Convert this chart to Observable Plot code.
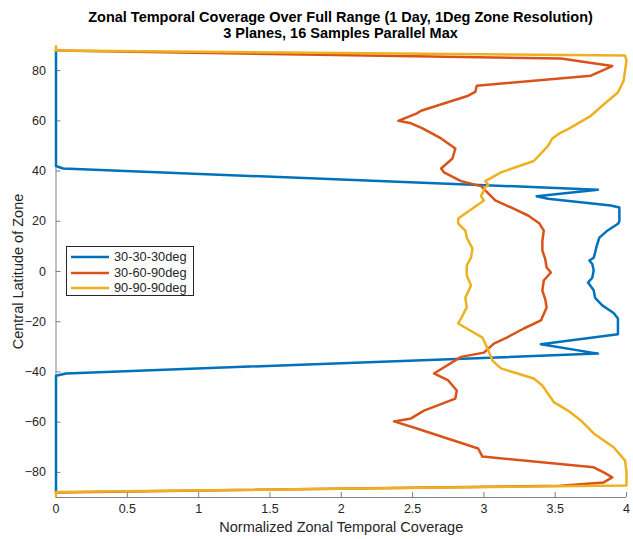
<!DOCTYPE html>
<html>
<head>
<meta charset="utf-8">
<script src="https://cdn.jsdelivr.net/npm/d3@7"></script>
<script src="https://cdn.jsdelivr.net/npm/@observablehq/plot@0.6"></script>
<style>
  body { margin: 0; background: white; font-family: "Liberation Sans", Arial, Helvetica, sans-serif; }
  #wrap { position: relative; width: 633px; height: 539px; }
  #title { height: 40px; box-sizing: border-box; padding-top: 9px; text-align: center; font-weight: bold; font-size: 14.5px; line-height: 16px; color: #000; padding-left: 48px; white-space: nowrap; }
  #legend { position: absolute; left: 66px; top: 246px; width: 128px; height: 50px; box-sizing: border-box; border: 1px solid #262626; background: white; font-size: 12.8px; color: #262626; }
  .entry { position: absolute; left: 0; height: 14px; }
  .entry svg { position: absolute; left: 3px; top: 0; }
  .entry span { position: absolute; left: 47px; top: 0; line-height: 14px; white-space: nowrap; }
</style>
</head>
<body>
<div id="wrap">
  <div id="title">Zonal Temporal Coverage Over Full Range (1 Day, 1Deg Zone Resolution)<br>3 Planes, 16 Samples Parallel Max</div>
  <div id="chart"></div>
  <div id="legend"></div>
</div>
<script>
// ---- data ----
const seriesNames = ["30-30-30deg", "30-60-90deg", "90-90-90deg"];
const seriesColors = ["#0072BD", "#D95319", "#EDB120"];

const xTicks = [0, 0.5, 1, 1.5, 2, 2.5, 3, 3.5, 4];
const yTicks = [-80, -60, -40, -20, 0, 20, 40, 60, 80];

const blueLat = [88, 42, 41, 32.6, 30, 29, 26.3, 25.5, 20, 19, 16, 13.5, 10, 7.5, 5.5, 4.4, 3, 0.5, -2.5, -4.4, -7.5, -10.5, -13.5, -16.5, -18.7, -25, -29, -32.7, -40.6, -41.5, -88];
const blueVal = [0, 0, 0.05, 3.80, 3.37, 3.45, 3.89, 3.95, 3.95, 3.94, 3.86, 3.81, 3.79, 3.78, 3.77, 3.74, 3.76, 3.77, 3.76, 3.73, 3.77, 3.78, 3.83, 3.91, 3.94, 3.94, 3.40, 3.80, 0.07, 0, 0];

const orangeLat = [88, 84.8, 81.8, 78, 74, 71.5, 70, 64, 63, 60, 59, 57, 53, 49, 45, 41, 39.5, 36, 34, 30, 28.3, 25.5, 22.3, 19.1, 16.3, 12, 8.4, 5, 1.6, -0.4, -3.6, -7.6, -11, -14.3, -19.5, -22.7, -26.3, -28.7, -32.3, -34, -40.6, -43.4, -47.4, -50.6, -55.4, -58.5, -59.7, -62.5, -70.5, -73.7, -78, -80, -82, -84, -85.3, -88];
const orangeVal = [0, 3.54, 3.90, 3.75, 2.95, 2.94, 2.89, 2.56, 2.53, 2.40, 2.49, 2.57, 2.70, 2.80, 2.78, 2.70, 2.72, 2.84, 2.98, 3.05, 3.08, 3.19, 3.31, 3.39, 3.42, 3.41, 3.41, 3.43, 3.44, 3.47, 3.42, 3.41, 3.43, 3.44, 3.40, 3.28, 3.16, 3.07, 3.00, 2.84, 2.65, 2.75, 2.81, 2.80, 2.58, 2.49, 2.37, 2.53, 2.96, 2.99, 3.77, 3.84, 3.90, 3.84, 3.54, 0];

const yellowLat = [89.5, 88, 86, 84, 80, 76, 71.3, 67, 62, 59, 57, 55, 53, 50, 44, 39.5, 36, 34.5, 33.5, 30, 28.3, 25.5, 21.1, 19.1, 16.3, 13.5, 9.1, 5.6, 2.4, -1.6, -5.6, -10.4, -14.3, -18.7, -20.7, -22.7, -26.3, -30, -34, -35.5, -38.6, -42.6, -45.4, -52, -55.4, -59.3, -64.5, -70, -75.3, -80, -85.2, -87.8, -89.5];
const yellowVal = [0, 0, 3.99, 4.0, 3.99, 3.98, 3.94, 3.85, 3.75, 3.66, 3.60, 3.53, 3.48, 3.45, 3.35, 3.12, 3.01, 3.03, 3.01, 2.98, 3.00, 2.93, 2.82, 2.82, 2.87, 2.88, 2.92, 2.91, 2.88, 2.88, 2.91, 2.87, 2.88, 2.84, 2.82, 2.88, 2.99, 3.02, 3.05, 3.06, 3.12, 3.35, 3.41, 3.49, 3.59, 3.68, 3.77, 3.91, 3.99, 4.0, 4.0, 0, 0];

const series = [
  {lat: blueLat, val: blueVal},
  {lat: orangeLat, val: orangeVal},
  {lat: yellowLat, val: yellowVal}
];

const font = '"Liberation Sans", Arial, Helvetica, sans-serif';
const axisGray = "#808080";

const lineMarks = series.map((s, k) =>
  Plot.line(s.lat.map((lat, i) => ({lat, v: s.val[i]})), {
    x: "v", y: "lat", stroke: seriesColors[k], strokeWidth: 2.5,
    strokeLinejoin: "round", strokeLinecap: "round"
  })
);

const chart = Plot.plot({
  width: 633,
  height: 499,
  marginTop: 5,
  marginBottom: 42,
  marginLeft: 55.5,
  marginRight: 7,
  x: {domain: [0, 4]},
  y: {domain: [-90, 90]},
  style: {fontFamily: font, fontSize: "12.5px", color: "#262626", background: "white", overflow: "visible"},
  marks: [
    Plot.axisX(xTicks, {tickSize: 5, dy: -5, tickFormat: () => "", stroke: axisGray, label: null}),
    Plot.axisX(xTicks, {tickSize: 0, tickPadding: 7, tickFormat: d => String(d), label: null, fill: "#262626"}),
    Plot.axisY(yTicks, {tickSize: 5, dx: 5, tickFormat: () => "", stroke: axisGray, label: null}),
    Plot.axisY(yTicks, {tickSize: 0, tickPadding: 10, label: null, fill: "#262626"}),
    Plot.ruleX([0], {stroke: axisGray, strokeWidth: 1}),
    Plot.ruleY([-90], {stroke: axisGray, strokeWidth: 1}),
    ...lineMarks,
    Plot.text(["Normalized Zonal Temporal Coverage"], {text: d => d, frameAnchor: "bottom", textAnchor: "middle", lineAnchor: "middle", dy: 30, fontSize: 14.5, fill: "#262626"}),
    Plot.text(["Central Latitude of Zone"], {text: d => d, frameAnchor: "left", textAnchor: "middle", lineAnchor: "middle", dx: -37.5, rotate: -90, fontSize: 14.5, fill: "#262626"})
  ]
});
document.getElementById("chart").appendChild(chart);

// legend
const legend = document.getElementById("legend");
const tops = [3, 19, 34];
seriesNames.forEach((name, k) => {
  const e = document.createElement("div");
  e.className = "entry";
  e.style.top = tops[k] + "px";
  e.innerHTML = `<svg width="40" height="14"><line x1="1" x2="39" y1="7" y2="7" stroke="${seriesColors[k]}" stroke-width="2.5"/></svg><span>${name}</span>`;
  legend.appendChild(e);
});
</script>
</body>
</html>
